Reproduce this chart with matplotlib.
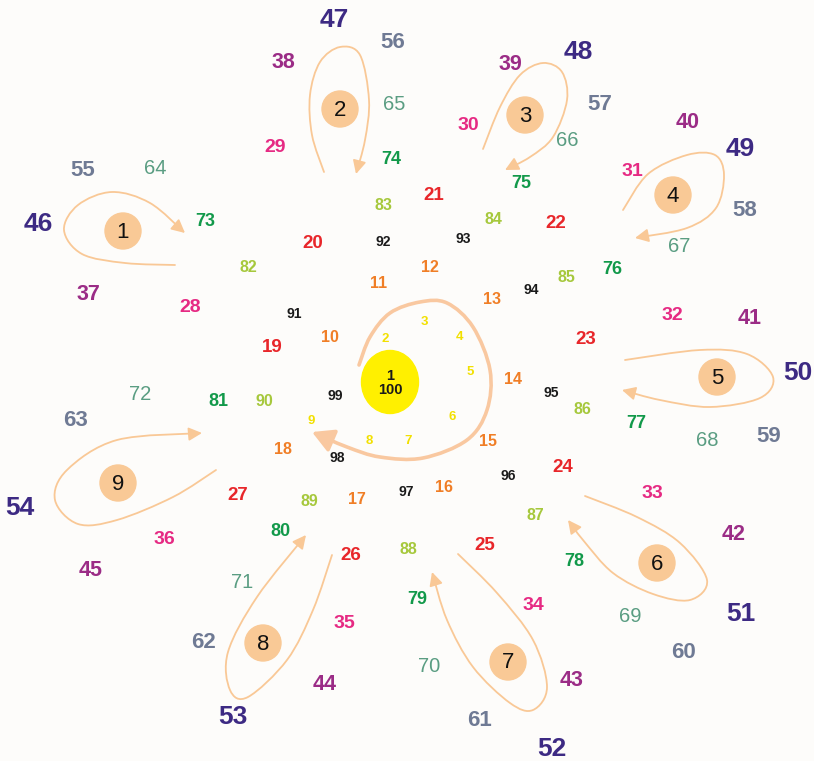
import numpy as np
import matplotlib
matplotlib.use("Agg")
import matplotlib.pyplot as plt
from matplotlib.path import Path
from matplotlib.patches import Circle, Ellipse, FancyArrowPatch

# numbers 2..99, positions (pixels, y down)
numbers = list(range(2, 100))
num_x = [385, 424, 459, 470, 452, 408, 369, 311,
         330, 379, 430, 492, 513, 488, 444, 357, 283,
         272, 313, 434, 556, 586, 563, 485, 351, 238,
         190, 275, 468, 632, 672, 652, 533, 344, 164,
         88, 283, 510, 688, 750, 734, 572, 325, 91,
         38, 334, 578, 740, 798, 741, 552, 233, 20,
         83, 393, 600, 745, 769, 683, 479, 204, 75,
         155, 394, 567, 679, 707, 630, 429, 242, 140,
         205, 391, 521, 612, 636, 574, 417, 280, 218,
         248, 383, 493, 566, 582, 535, 408, 309, 264,
         294, 383, 463, 531, 551, 508, 406, 337, 335]
num_y = [339, 322, 337, 372, 417, 441, 441, 421,
         338, 283, 267, 300, 380, 441, 487, 499, 449,
         347, 244, 196, 224, 339, 467, 546, 555, 495,
         307, 148, 125, 171, 315, 494, 605, 624, 539,
         295, 63, 64, 123, 318, 534, 681, 685, 570,
         224, 20, 52, 149, 373, 614, 749, 717, 508,
         171, 43, 105, 210, 437, 652, 720, 643, 420,
         168, 105, 141, 246, 441, 616, 667, 582, 394,
         221, 160, 183, 269, 423, 562, 599, 532, 401,
         268, 205, 219, 278, 409, 515, 550, 501, 401,
         314, 242, 239, 290, 393, 476, 492, 458, 396]

# one style per group of nine numbers (2-9, 10-18, ..., 91-99)
group_colors = ["#f2e000", "#f07e26", "#e8262a", "#e62a83", "#9b2c86",
                "#3d2a83", "#6f7a94", "#5a9d82", "#12994a", "#a6c83c", "#1a1a1a"]
group_sizes = [9.5, 11.5, 13.5, 14, 15.5, 19, 16, 14.5, 13, 11.5, 10]
group_weights = ["bold", "bold", "bold", "bold", "bold", "bold",
                 "bold", "normal", "bold", "bold", "bold"]

# numbered discs 1..9
disc_labels = ["1", "2", "3", "4", "5", "6", "7", "8", "9"]
disc_x = [123, 340, 525, 673, 717, 657, 508, 263, 118]
disc_y = [231, 109, 115, 195, 377, 563, 662, 643, 483]

# loop curves (waypoints, last point is the arrow tip)
loops = [
    [(175, 265), (125, 263), (82, 254), (64, 230), (78, 205), (112, 192), (150, 203), (185, 233)],
    [(324, 172), (312, 135), (310, 95), (320, 62), (340, 47), (360, 55), (369, 100), (365, 140), (356, 174)],
    [(483, 149), (500, 107), (520, 75), (543, 63), (562, 72), (567, 100), (553, 137), (530, 157), (505, 170)],
    [(623, 210), (648, 174), (687, 155), (715, 155), (724, 175), (716, 208), (687, 228), (635, 238)],
    [(625, 360), (700, 350), (747, 354), (773, 377), (760, 398), (710, 407), (660, 400), (622, 390)],
    [(585, 496), (637, 517), (680, 543), (707, 580), (690, 600), (653, 594), (613, 573), (583, 540), (568, 520)],
    [(458, 554), (497, 593), (533, 640), (547, 687), (533, 710), (510, 703), (473, 667), (447, 620), (432, 572)],
    [(332, 555), (313, 610), (287, 660), (248, 697), (230, 690), (228, 652), (257, 597), (306, 535)],
    [(216, 470), (173, 497), (117, 520), (78, 524), (55, 500), (67, 470), (117, 440), (202, 433)],
]
center_loop = [(359, 365), (370, 337), (390, 313), (420, 302), (447, 303), (473, 327),
               (490, 370), (487, 410), (467, 440), (423, 458), (380, 457), (347, 447), (312, 432)]


def smooth_path(pts):
    # catmull-rom through the points, as cubic beziers
    pts = np.asarray(pts, float)
    p = np.vstack([pts[0], pts, pts[-1]])
    verts = [pts[0]]
    codes = [Path.MOVETO]
    for i in range(1, len(p) - 2):
        p0, p1, p2, p3 = p[i - 1], p[i], p[i + 1], p[i + 2]
        verts += [p1 + (p2 - p0) / 6, p2 - (p3 - p1) / 6, p2]
        codes += [Path.CURVE4] * 3
    return Path(verts, codes)


fig = plt.figure(figsize=(8.14, 7.61), dpi=100)
fig.patch.set_facecolor("#fdfcfa")
ax = fig.add_axes([0, 0, 1, 1])
ax.set_xlim(0, 814)
ax.set_ylim(761, 0)
ax.axis("off")

loop_color = "#f9c896"
for pts in loops:
    ax.add_patch(FancyArrowPatch(path=smooth_path(pts), color=loop_color, lw=1.3,
                                 arrowstyle="-|>,head_length=0.8,head_width=0.4",
                                 mutation_scale=10))
ax.add_patch(FancyArrowPatch(path=smooth_path(center_loop), color="#f9c8a0", lw=2.6,
                             arrowstyle="-|>,head_length=1.0,head_width=0.55",
                             mutation_scale=13))

for lab, x, y in zip(disc_labels, disc_x, disc_y):
    ax.add_patch(Circle((x, y), 18, color="#f9c996", zorder=3))
    ax.text(x, y + 1, lab, ha="center", va="center", fontsize=16,
            family="Liberation Sans", color="#111111", zorder=4)

ax.add_patch(Ellipse((390, 382), 57, 63, color="#fff000", zorder=3))
ax.text(390, 376, "1", ha="center", va="center", fontsize=10.5, fontweight="bold",
        family="Liberation Sans", color="#1a1a1a", zorder=4)
ax.text(390, 390, "100", ha="center", va="center", fontsize=10.5, fontweight="bold",
        family="Liberation Sans", color="#1a1a1a", zorder=4)

for n, x, y in zip(numbers, num_x, num_y):
    g = (n - 1) // 9
    ax.text(x, y, str(n), ha="center", va="center", fontsize=group_sizes[g],
            fontweight=group_weights[g], family="Liberation Sans",
            color=group_colors[g], zorder=4)

fig.savefig("out.png", dpi=100, facecolor=fig.get_facecolor())
